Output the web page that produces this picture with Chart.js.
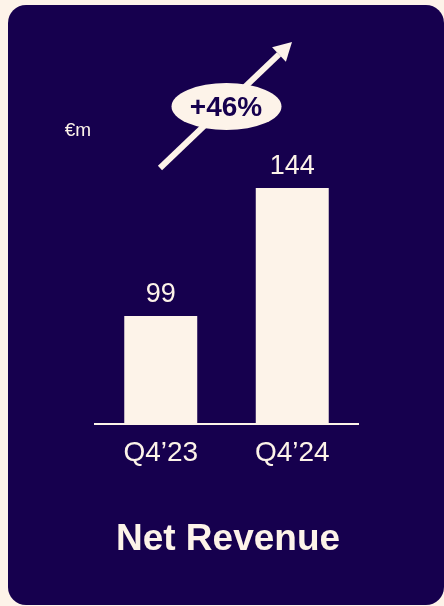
<!DOCTYPE html>
<html>
<head>
<meta charset="utf-8">
<script src="https://cdn.jsdelivr.net/npm/chart.js@4.4.1/dist/chart.umd.min.js"></script>
<style>
  html, body { margin: 0; padding: 0; background: #fdf3e9; }
  body { width: 444px; height: 606px; position: relative; overflow: hidden; }
  .card {
    position: absolute; left: 8px; top: 5px; width: 436px; height: 600px;
    background: #16004e; border-radius: 18px;
  }
  #wrap { position: absolute; left: 0; top: 0; width: 444px; height: 606px; }
</style>
</head>
<body>
<div class="card"></div>
<div id="wrap"><canvas id="chart" width="444" height="606"></canvas></div>
<script>
// Quarterly net revenue, €m
const categories = ["Q4\u201923", "Q4\u201924"];
const netRevenue = [99, 144];
const growthLabel = "+46%";
const unitLabel = "\u20acm";
const chartTitle = "Net Revenue";

const CREAM = "#fdf3e9";
const NAVY = "#16004e";
const FONT = "'Liberation Sans', Arial, sans-serif";

// Value above each bar, unit tag, growth arrow with badge, and the title
const decorations = {
  id: "decorations",
  afterDatasetsDraw(chart) {
    const ctx = chart.ctx;
    const meta = chart.getDatasetMeta(0);
    ctx.save();
    ctx.fillStyle = CREAM;
    ctx.textAlign = "center";
    ctx.textBaseline = "alphabetic";
    ctx.font = "27px " + FONT;
    meta.data.forEach((bar, i) => {
      ctx.fillText(String(netRevenue[i]), bar.x, bar.y - 14);
    });

    // unit
    ctx.font = "19px " + FONT;
    ctx.fillText(unitLabel, 78, 136);

    // growth arrow
    const x0 = 160, y0 = 168, x1 = 292, y1 = 42;
    const ang = Math.atan2(y1 - y0, x1 - x0);
    const headLen = 18, headHalf = 10;
    const bx = x1 - headLen * Math.cos(ang), by = y1 - headLen * Math.sin(ang);
    ctx.strokeStyle = CREAM;
    ctx.lineWidth = 6;
    ctx.lineCap = "butt";
    ctx.beginPath();
    ctx.moveTo(x0, y0);
    ctx.lineTo(bx, by);
    ctx.stroke();
    ctx.beginPath();
    ctx.moveTo(x1, y1);
    ctx.lineTo(bx + headHalf * Math.sin(ang), by - headHalf * Math.cos(ang));
    ctx.lineTo(bx - headHalf * Math.sin(ang), by + headHalf * Math.cos(ang));
    ctx.closePath();
    ctx.fill();

    // growth badge
    ctx.beginPath();
    ctx.ellipse(226.5, 106.5, 55, 23.5, 0, 0, Math.PI * 2);
    ctx.fill();
    ctx.fillStyle = NAVY;
    ctx.font = "bold 28px " + FONT;
    ctx.textBaseline = "middle";
    ctx.fillText(growthLabel, 226, 108);

    // title
    ctx.fillStyle = CREAM;
    ctx.font = "bold 37px " + FONT;
    ctx.textBaseline = "alphabetic";
    ctx.fillText(chartTitle, 228, 550);
    ctx.restore();
  }
};

new Chart(document.getElementById("chart"), {
  type: "bar",
  data: {
    labels: categories,
    datasets: [{
      data: netRevenue,
      backgroundColor: CREAM,
      borderWidth: 0,
      categoryPercentage: 1,
      barPercentage: 0.555
    }]
  },
  options: {
    responsive: false,
    animation: false,
    events: [],
    layout: { padding: { left: 95, right: 86, top: 188, bottom: 122 } },
    plugins: { legend: { display: false }, tooltip: { enabled: false }, title: { display: false } },
    scales: {
      x: {
        grid: { display: false, drawTicks: false },
        border: { display: true, color: CREAM, width: 2 },
        ticks: { color: CREAM, font: { family: FONT, size: 28 }, padding: 12 },
        afterFit(scale) { scale.height = 60; }
      },
      y: {
        display: false,
        min: 61,
        max: 144
      }
    }
  },
  plugins: [decorations]
});
</script>
</body>
</html>
